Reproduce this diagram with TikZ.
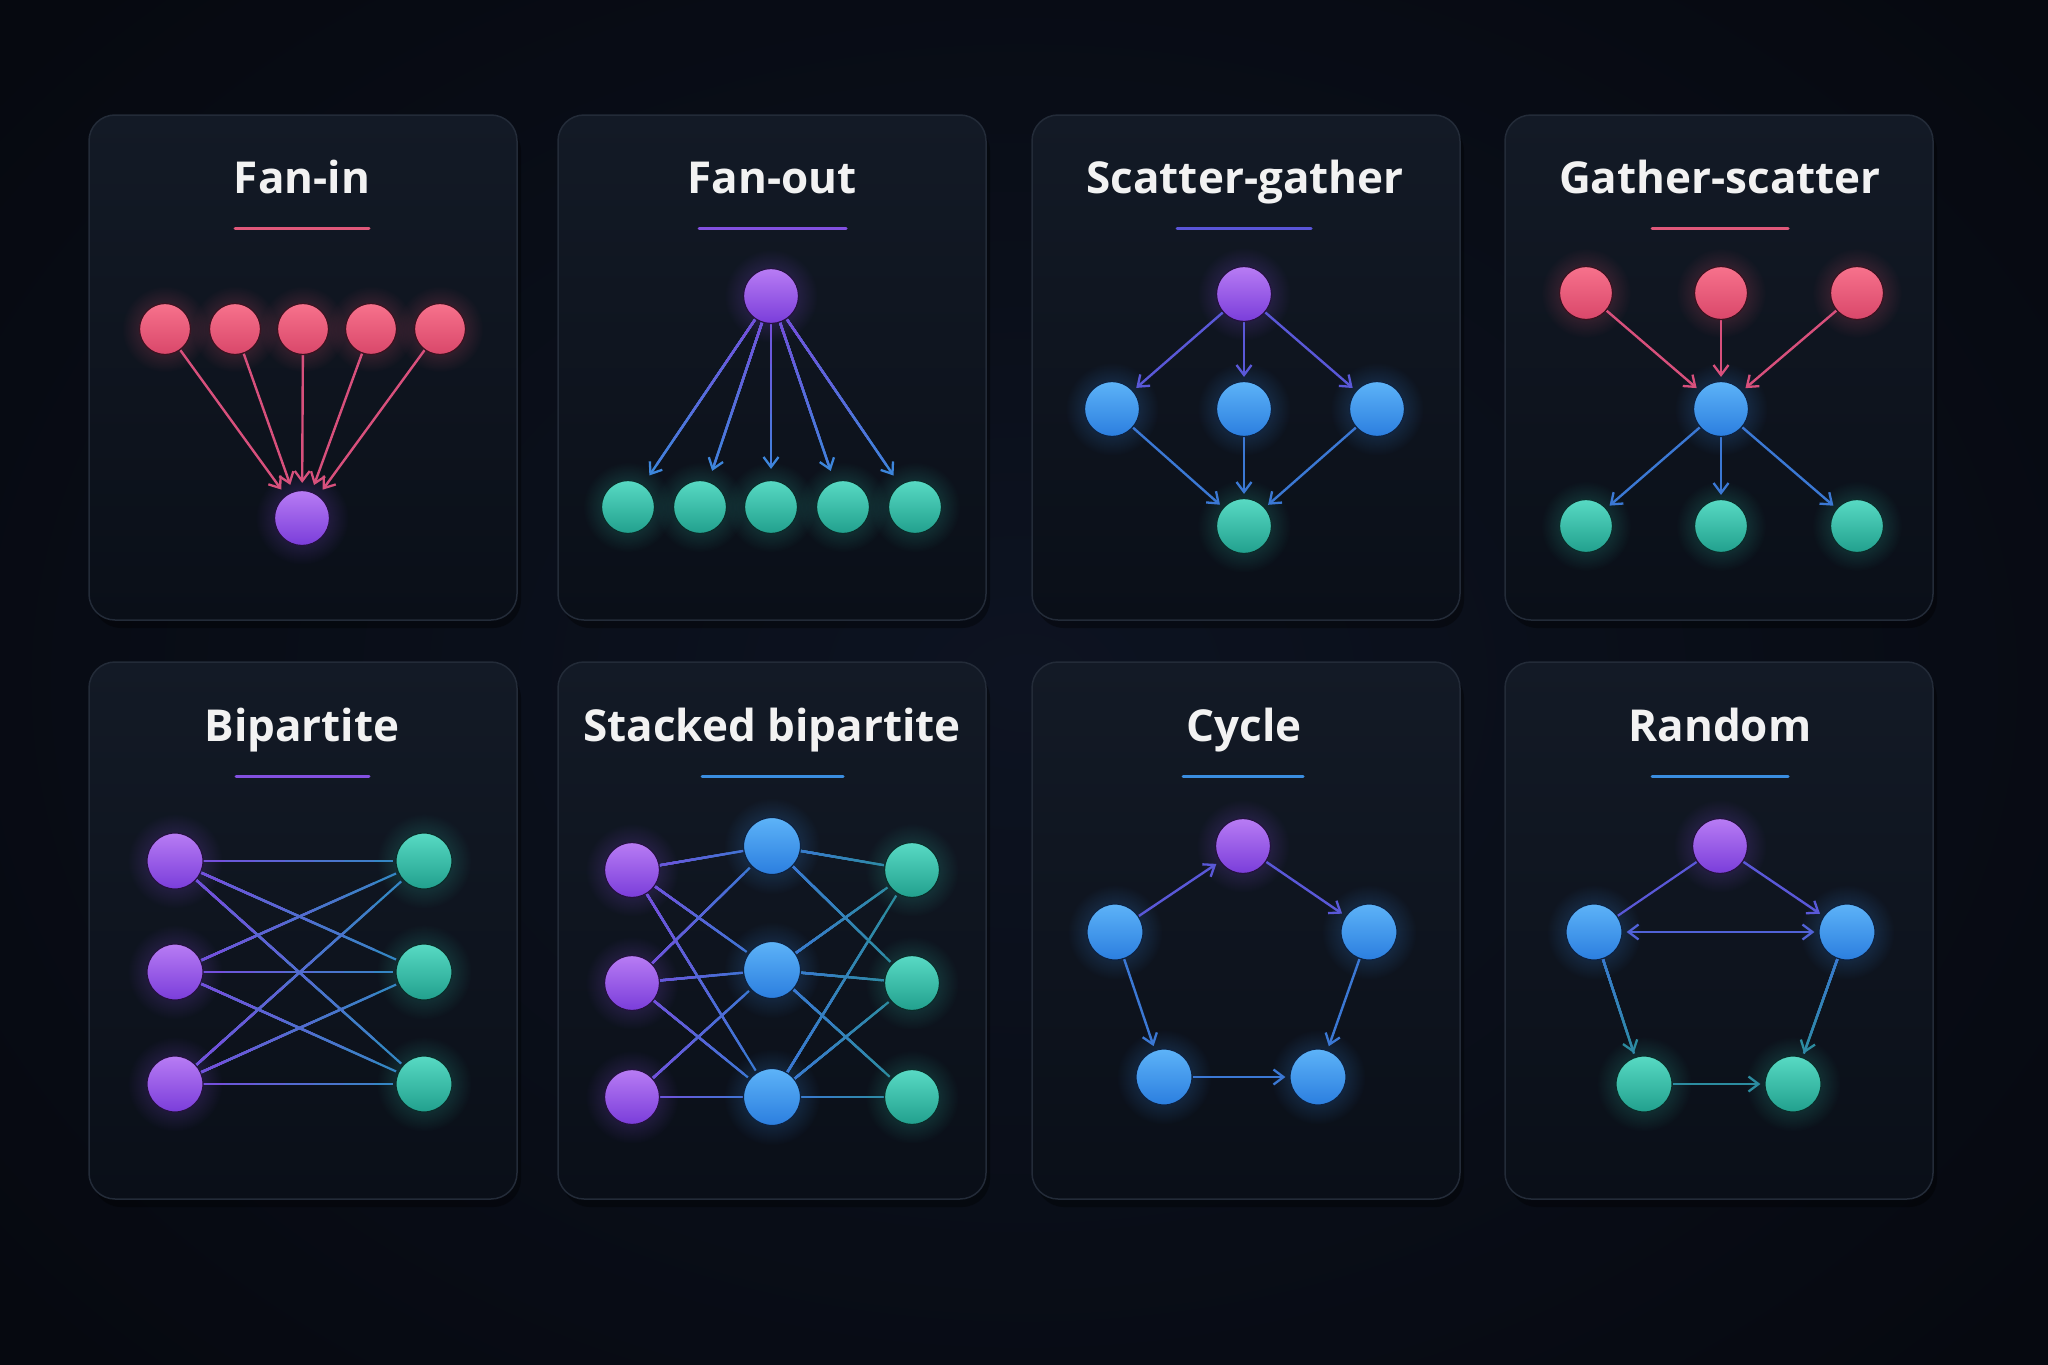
\documentclass[tikz,border=0pt]{standalone}
\usepackage{fontspec}
\setmainfont{Open Sans}
\usetikzlibrary{arrows.meta,fadings,shadings,calc}
\definecolor{bgA}{HTML}{0D1321}
\definecolor{bgB}{HTML}{060910}
\definecolor{panT}{HTML}{131A26}
\definecolor{panB}{HTML}{0A0F18}
\definecolor{panE}{HTML}{232B38}
\definecolor{ttlC}{HTML}{F2F2F2}
% node families: L light, D dark, O outline, G glow
\definecolor{pkL}{HTML}{F7728C}\definecolor{pkD}{HTML}{D9476A}\definecolor{pkO}{HTML}{3A1220}\definecolor{pkG}{HTML}{E0506E}
\definecolor{puL}{HTML}{B87CF4}\definecolor{puD}{HTML}{7A3DDA}\definecolor{puO}{HTML}{24123F}\definecolor{puG}{HTML}{8A4FE8}
\definecolor{blL}{HTML}{5DB3F8}\definecolor{blD}{HTML}{2B7EDF}\definecolor{blO}{HTML}{0E2240}\definecolor{blG}{HTML}{3A8EEA}
\definecolor{tlL}{HTML}{58DAC4}\definecolor{tlD}{HTML}{21A08D}\definecolor{tlO}{HTML}{0B2C2A}\definecolor{tlG}{HTML}{2FBFA8}
% edge colours
\definecolor{ePink}{HTML}{D8507C}
\definecolor{ePurp}{HTML}{7450DC}
\definecolor{eInd}{HTML}{5A58D8}
\definecolor{eBlue}{HTML}{3B78D4}
\definecolor{eBlue2}{HTML}{3D86DC}
\definecolor{eTB}{HTML}{3586C4}
\definecolor{eTeal}{HTML}{2C8CA0}
\definecolor{ulPink}{HTML}{E0587A}
\definecolor{ulPurp}{HTML}{8350E0}
\definecolor{ulInd}{HTML}{5A55D8}
\definecolor{ulBlue}{HTML}{3A8DE0}
\tikzfading[name=glowfade, inner color=transparent!62, outer color=transparent!100]
\pgfdeclarelayer{bgl}
\pgfdeclarelayer{glowl}
\pgfdeclarelayer{edgel}
\pgfsetlayers{bgl,glowl,edgel,main}
\tikzset{
  gn/.style={circle, minimum size=#1pt, inner sep=0pt},
  fam/.style={shade, shading angle=40, top color=#1L, bottom color=#1D, draw=#1O, line width=1.2pt},
  ttl/.style={anchor=base, text=ttlC, font=\fontsize{44}{50}\selectfont\bfseries},
  ulw/.style={line width=3pt, line cap=round},
  panel/.style={rounded corners=26pt, top color=panT, bottom color=panB, draw=panE, line width=1.5pt},
  tipb/.tip={Straight Barb[length=10pt,width=15pt,line width=2.3pt]},
  arw/.style={-tipb, line width=2.4pt, shorten >=4pt},
  lnk/.style={line width=2.2pt},
}
% \gnode{name}{x}{y}{family}{diameter}
\newcommand\gnode[5]{%
  \begin{pgfonlayer}{glowl}\fill[#4G, path fading=glowfade] (#2,#3) circle (#5*0.85pt);\end{pgfonlayer}
  \node[gn=#5, fam=#4] (#1) at (#2,#3) {};}
% \gedge{style}{from}{to}{start colour}{end colour}
\newcommand\gedge[5]{%
  \draw[#1, #5] (#2) -- (#3);
  \foreach \f/\p in {0.8/17,0.68/33,0.56/50,0.44/67,0.32/83,0.2/100}{%
    \draw[line width=2.3pt, #4!\p!#5] (#2.center) -- ($(#2)!\f!(#3)$);}}
\begin{document}
\begin{tikzpicture}[x=1pt,y=-1pt]
\useasboundingbox (0,0) rectangle (2048,1365);
\begin{pgfonlayer}{bgl}
\fill[bgB] (0,0) rectangle (2048,1365);
\shade[inner color=bgA, outer color=bgB] (-300,-300) rectangle (2348,1665);
\foreach \px/\py/\ph in {89/115/505,558/115/505,1032/115/505,1505/115/505,89/662/537,558/662/537,1032/662/537,1505/662/537}{
  \fill[black, opacity=0.35, rounded corners=28pt] (\px+4,\py+8) rectangle (\px+432,\py+\ph+8);
  \path[panel] (\px,\py) rectangle (\px+428,\py+\ph);
}
\end{pgfonlayer}
% titles
\node[ttl] (t1) at (302,193) {Fan-in};
\node[ttl] (t2) at (772,193) {Fan-out};
\node[ttl] (t3) at (1245,193) {Scatter-gather};
\node[ttl] (t4) at (1720,193) {Gather-scatter};
\node[ttl] (t5) at (302,741) {Bipartite};
\node[ttl] (t6) at (772,741) {Stacked bipartite};
\node[ttl] (t7) at (1244,741) {Cycle};
\node[ttl] (t8) at (1720,741) {Random};
% underlines
\draw[ulw, ulPink] (235,228) -- (369,228);
\draw[ulw, ulPurp] (699,228) -- (846,228);
\draw[ulw, ulInd] (1177,228) -- (1311,228);
\draw[ulw, ulPink] (1652,228) -- (1788,228);
\draw[ulw, ulPurp] (236,776) -- (369,776);
\draw[ulw, ulBlue] (702,776) -- (843,776);
\draw[ulw, ulBlue] (1183,776) -- (1303,776);
\draw[ulw, ulBlue] (1652,776) -- (1788,776);

% ---------- Fan-in ----------
\gnode{a1}{165}{329}{pk}{51}
\gnode{a2}{235}{329}{pk}{51}
\gnode{a3}{303}{329}{pk}{51}
\gnode{a4}{371}{329}{pk}{51}
\gnode{a5}{440}{329}{pk}{51}
\gnode{ab}{302}{518}{pu}{55}
% ---------- Fan-out ----------
\gnode{bt}{771}{296}{pu}{55}
\gnode{b1}{628}{507}{tl}{53}
\gnode{b2}{700}{507}{tl}{53}
\gnode{b3}{771}{507}{tl}{53}
\gnode{b4}{843}{507}{tl}{53}
\gnode{b5}{915}{507}{tl}{53}
% ---------- Scatter-gather ----------
\gnode{ct}{1244}{294}{pu}{55}
\gnode{c1}{1112}{409}{bl}{55}
\gnode{c2}{1244}{409}{bl}{55}
\gnode{c3}{1377}{409}{bl}{55}
\gnode{cb}{1244}{526}{tl}{55}
% ---------- Gather-scatter ----------
\gnode{d1}{1586}{293}{pk}{53}
\gnode{d2}{1721}{293}{pk}{53}
\gnode{d3}{1857}{293}{pk}{53}
\gnode{dc}{1721}{409}{bl}{55}
\gnode{e1}{1586}{526}{tl}{53}
\gnode{e2}{1721}{526}{tl}{53}
\gnode{e3}{1857}{526}{tl}{53}
% ---------- Bipartite ----------
\gnode{f1}{175}{861}{pu}{56}
\gnode{f2}{175}{972}{pu}{56}
\gnode{f3}{175}{1084}{pu}{56}
\gnode{g1}{424}{861}{tl}{56}
\gnode{g2}{424}{972}{tl}{56}
\gnode{g3}{424}{1084}{tl}{56}
% ---------- Stacked bipartite ----------
\gnode{h1}{632}{870}{pu}{55}
\gnode{h2}{632}{983}{pu}{55}
\gnode{h3}{632}{1097}{pu}{55}
\gnode{m1}{772}{846}{bl}{57}
\gnode{m2}{772}{970}{bl}{57}
\gnode{m3}{772}{1097}{bl}{57}
\gnode{r1}{912}{870}{tl}{55}
\gnode{r2}{912}{983}{tl}{55}
\gnode{r3}{912}{1097}{tl}{55}
% ---------- Cycle ----------
\gnode{pt}{1243}{846}{pu}{55}
\gnode{pl}{1115}{932}{bl}{56}
\gnode{pr}{1369}{932}{bl}{56}
\gnode{pbl}{1164}{1077}{bl}{56}
\gnode{pbr}{1318}{1077}{bl}{56}
% ---------- Random ----------
\gnode{qt}{1720}{846}{pu}{55}
\gnode{ql}{1594}{932}{bl}{56}
\gnode{qr}{1847}{932}{bl}{56}
\gnode{qbl}{1644}{1084}{tl}{56}
\gnode{qbr}{1793}{1084}{tl}{56}

\begin{pgfonlayer}{edgel}
% Fan-in
\foreach \s in {a1,a2,a3,a4,a5} \draw[arw, ePink, shorten >=7pt] (\s) -- (ab);
% Fan-out
\foreach \s in {b1,b2,b3,b4,b5} \gedge{arw, shorten >=11pt}{bt}{\s}{ePurp}{eBlue2};
% Scatter-gather
\foreach \s in {c1,c2,c3} \draw[arw, eInd] (ct) -- (\s);
\foreach \s in {c1,c2,c3} \draw[arw, eBlue] (\s) -- (cb);
% Gather-scatter
\foreach \s in {d1,d2,d3} \draw[arw, ePink] (\s) -- (dc);
\foreach \s in {e1,e2,e3} \draw[arw, eBlue] (dc) -- (\s);
% Bipartite
\foreach \s in {f1,f2,f3}
  \foreach \t in {g1,g2,g3}
    \gedge{lnk, shorten >=2pt}{\s}{\t}{ePurp}{eTB};
% Stacked bipartite
\foreach \s/\t in {h1/m1,h1/m2,h1/m3,h2/m1,h2/m2,h2/m3,h3/m2,h3/m3}
  \gedge{lnk, shorten >=2pt}{\s}{\t}{ePurp}{eBlue};
\foreach \s/\t in {m1/r1,m1/r2,m2/r1,m2/r2,m2/r3,m3/r1,m3/r2,m3/r3}
  \gedge{lnk, shorten >=2pt}{\s}{\t}{eBlue}{eTeal};
% Cycle
\draw[arw, eInd] (pl) -- (pt);
\draw[arw, eInd] (pt) -- (pr);
\draw[arw, eBlue] (pr) -- (pbr);
\draw[arw, eBlue] (pl) -- (pbl);
\draw[arw, eBlue] (pbl) -- (pbr);
% Random
\draw[lnk, eInd] (qt) -- (ql);
\draw[arw, eInd] (qt) -- (qr);
\draw[arw, tipb-tipb, shorten <=4pt, eInd!70!eBlue] (ql) -- (qr);
\gedge{arw}{ql}{qbl}{eBlue}{eTeal};
\gedge{arw}{qr}{qbr}{eBlue}{eTeal};
\draw[arw, eTeal] (qbl) -- (qbr);
\end{pgfonlayer}
\end{tikzpicture}
\end{document}
